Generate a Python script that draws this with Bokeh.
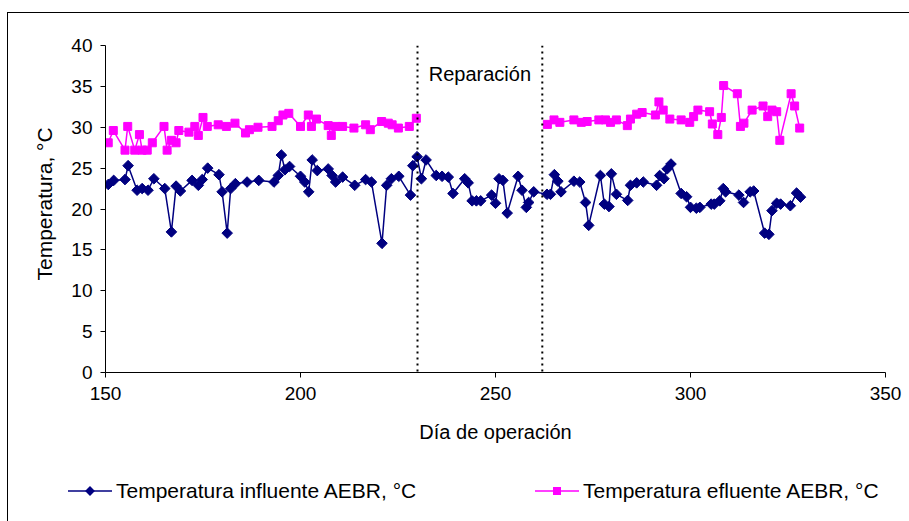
import numpy as np
from bokeh.plotting import figure
from bokeh.layouts import column
from bokeh.models import (ColumnDataSource, Span, Label, Div, FixedTicker,
                          Range1d, Title)
from bokeh.embed import file_html
from bokeh.resources import INLINE

# Influent temperature (day of operation, °C)
dia_influente = [
    150.7, 152.1, 155.0, 155.8, 158.1, 159.4, 160.9, 162.4, 165.2, 166.9,
    168.1, 169.2, 172.2, 173.8, 174.8, 176.2, 179.1, 179.9, 181.2, 182.1,
    183.3, 186.3, 189.3, 193.2, 194.3, 195.1, 196.0, 197.2, 200.0, 201.1,
    202.1, 203.0, 204.3, 207.1, 208.1, 209.0, 210.8, 213.9, 216.7, 218.2,
    220.9, 222.1, 223.3, 225.2, 228.2, 228.8, 229.9, 231.0, 232.2, 234.8,
    236.3, 237.9, 239.1, 242.1, 243.0, 244.0, 245.1, 246.2, 249.0, 250.0,
    250.9, 251.9, 253.0, 255.8, 256.8, 257.9, 258.5, 259.8, 263.2, 264.1,
    265.1, 266.0, 266.8, 270.1, 271.6, 273.1, 273.9, 276.9, 277.9, 279.1,
    279.7, 281.0, 283.9, 284.6, 286.2, 287.9, 291.3, 292.1, 293.2, 294.0,
    295.0, 297.6, 299.0, 300.0, 301.5, 302.4, 305.3, 306.1, 307.5, 308.4,
    309.0, 312.4, 313.6, 315.3, 316.2, 319.0, 320.1, 320.9, 322.1, 323.1,
    325.6, 327.2, 328.2,
]
temp_influente = [
    23.0, 23.5, 23.6, 25.3, 22.3, 22.5, 22.3, 23.7, 22.5, 17.2,
    22.8, 22.2, 23.5, 22.9, 23.6, 25.0, 24.2, 22.1, 17.05, 22.5,
    23.1, 23.3, 23.5, 23.3, 24.1, 26.6, 24.8, 25.2, 24.0, 23.3,
    22.1, 26.0, 24.7, 24.9, 24.1, 23.3, 23.9, 22.9, 23.6, 23.3,
    15.8, 22.9, 23.7, 24.0, 21.7, 25.3, 26.4, 23.7, 26.0, 24.1,
    24.0, 23.9, 21.9, 23.7, 23.2, 21.0, 21.0, 21.0, 21.7, 20.7,
    23.7, 23.5, 19.5, 24.0, 22.3, 20.2, 20.8, 22.1, 21.8, 21.8,
    24.2, 23.4, 22.1, 23.4, 23.3, 20.8, 18.0, 24.1, 20.6, 20.3,
    24.3, 21.8, 21.05, 22.9, 23.2, 23.3, 22.9, 24.1, 23.7, 24.9,
    25.5, 21.9, 21.5, 20.2, 20.1, 20.2, 20.6, 20.6, 21.0, 22.5,
    22.1, 21.7, 20.8, 22.1, 22.2, 17.05, 16.9, 19.8, 20.7, 20.6,
    20.4, 21.95, 21.45,
]

# Effluent temperature; NaN marks the repair stop
dia_efluente = [
    150.7, 152.0, 155.0, 155.7, 157.5, 158.7, 159.4, 160.7, 162.0, 165.0,
    165.8, 166.9, 168.1, 168.8, 171.4, 172.9, 173.8, 175.0, 176.1, 178.9,
    181.0, 183.2, 185.9, 186.9, 189.1, 192.7, 194.3, 195.5, 197.0, 200.0,
    202.0, 202.8, 204.1, 207.1, 207.9, 209.0, 210.8, 213.7, 216.7, 217.9,
    220.8, 222.5, 223.5, 225.1, 227.9, 229.7, 246.0, 263.3, 265.0, 266.5,
    270.1, 272.0, 273.5, 276.5, 278.2, 279.5, 281.0, 283.8, 284.6, 286.2,
    287.6, 291.0, 291.9, 293.0, 294.7, 297.6, 299.8, 300.8, 301.9, 304.9,
    305.6, 307.0, 307.9, 308.5, 312.0, 312.8, 313.7, 315.8, 318.6, 319.8,
    320.9, 322.1, 322.9, 325.8, 326.7, 328.0,
]
temp_efluente = [
    28.1, 29.6, 27.2, 30.1, 27.2, 29.1, 27.2, 27.2, 28.1, 30.1,
    27.2, 28.4, 28.1, 29.6, 29.4, 30.1, 29.0, 31.2, 30.1, 30.3,
    30.1, 30.5, 29.3, 29.7, 30.0, 30.1, 30.8, 31.5, 31.7, 30.1,
    31.5, 30.1, 31.0, 30.2, 29.0, 30.1, 30.1, 29.9, 30.3, 29.7,
    30.7, 30.5, 30.3, 29.9, 30.1, 31.1, np.nan, 30.35, 30.9, 30.6,
    30.9, 30.6, 30.7, 30.9, 30.9, 30.6, 30.9, 30.2, 31.0, 31.6,
    31.8, 31.5, 33.1, 32.1, 31.0, 30.9, 30.6, 31.3, 32.1, 31.9,
    30.4, 29.1, 31.2, 35.1, 34.1, 30.1, 30.5, 32.1, 32.6, 31.3,
    32.1, 31.9, 28.4, 34.1, 32.6, 29.9,
]

# Repair interval boundaries and axis ticks
inicio_reparacion = 230
fin_reparacion = 262
ticks_x = [150, 200, 250, 300, 350]
ticks_y = [0, 5, 10, 15, 20, 25, 30, 35, 40]

serie_influente = "Temperatura influente AEBR, °C"
serie_efluente = "Temperatura efluente AEBR, °C"

FONT = "Liberation Sans"
AZUL = "#000080"
MAGENTA = "#FF00FF"

src_in = ColumnDataSource(dict(x=dia_influente, y=temp_influente))
src_ef = ColumnDataSource(dict(x=dia_efluente, y=temp_efluente))

p = figure(width=901, height=450, output_backend="svg", toolbar_location=None,
           x_range=Range1d(150, 350), y_range=Range1d(0, 40),
           min_border_left=97, min_border_top=32, min_border_right=24,
           min_border_bottom=91)
p.background_fill_color = "white"
p.border_fill_color = "white"
p.outline_line_color = None
p.xgrid.grid_line_color = None
p.ygrid.grid_line_color = None

for ax in (p.xaxis[0], p.yaxis[0]):
    ax.axis_line_color = "black"
    ax.axis_line_width = 1
    ax.major_tick_line_color = "black"
    ax.major_tick_in = 0
    ax.major_tick_out = 5
    ax.minor_tick_line_color = None
    ax.major_label_text_font = FONT
    ax.major_label_text_font_size = "19px"
    ax.major_label_text_color = "black"
    ax.axis_label_text_font = FONT
    ax.axis_label_text_font_size = "20px"
    ax.axis_label_text_font_style = "normal"
    ax.axis_label_text_color = "black"

p.xaxis.ticker = FixedTicker(ticks=ticks_x)
p.yaxis.ticker = FixedTicker(ticks=ticks_y)
p.xaxis.major_label_standoff = 9
p.yaxis.major_label_standoff = 8
p.xaxis.axis_label = "Día de operación"
p.xaxis.axis_label_standoff = 18

# Vertical axis title, anchored from the bottom of the frame
p.add_layout(Title(text="Temperatura, °C", align="left", offset=92, standoff=25,
                   text_font=FONT, text_font_size="21px", text_font_style="normal",
                   text_color="black"), "left")

# Repair interval markers
for loc in (inicio_reparacion, fin_reparacion):
    p.add_layout(Span(location=loc, dimension="height", line_color="black",
                      line_width=2, line_dash="2 4"))
p.add_layout(Label(x=(inicio_reparacion + fin_reparacion) / 2, y=36.5,
                   text="Reparación", text_font=FONT, text_font_size="20px",
                   text_align="center", text_baseline="middle",
                   text_color="black"))

p.line("x", "y", source=src_in, line_color=AZUL, line_width=1.5)
p.scatter("x", "y", source=src_in, marker="square", size=7.5, angle=np.pi / 4,
          fill_color=AZUL, line_color=AZUL)
p.line("x", "y", source=src_ef, line_color=MAGENTA, line_width=1.5)
p.scatter("x", "y", source=src_ef, marker="square", size=8,
          fill_color=MAGENTA, line_color=MAGENTA)

# Legend strip: line + marker key followed by the series name
key_in = ('<svg width="44" height="24" style="display:block">'
          f'<line x1="0" y1="12" x2="44" y2="12" stroke="{AZUL}" stroke-width="1.5"/>'
          f'<rect x="18.5" y="8.5" width="7" height="7" fill="{AZUL}" '
          'transform="rotate(45 22 12)"/></svg>')
key_ef = ('<svg width="44" height="24" style="display:block">'
          f'<line x1="0" y1="12" x2="44" y2="12" stroke="{MAGENTA}" stroke-width="1.5"/>'
          f'<rect x="18" y="8" width="8" height="8" fill="{MAGENTA}"/></svg>')


def entrada(left, key, texto):
    return (f'<div style="position:absolute;left:{left}px;top:11px;height:24px;'
            'display:flex;align-items:center;white-space:nowrap">'
            f'{key}<span style="margin-left:4px">{texto}</span></div>')


leyenda = Div(width=901, height=58,
              text=('<div style="position:relative;width:901px;height:58px;'
                    f"font-family:'{FONT}';font-size:21px;color:#000\">"
                    + entrada(55, key_in, serie_influente)
                    + entrada(522, key_ef, serie_efluente)
                    + '</div>'))

layout = column(p, leyenda, spacing=0, margin=(12, 0, 0, 7),
                styles={"border-left": "1px solid #000",
                        "border-top": "1px solid #000",
                        "background": "white"})

open("out.html", "w").write(file_html(layout, INLINE))
